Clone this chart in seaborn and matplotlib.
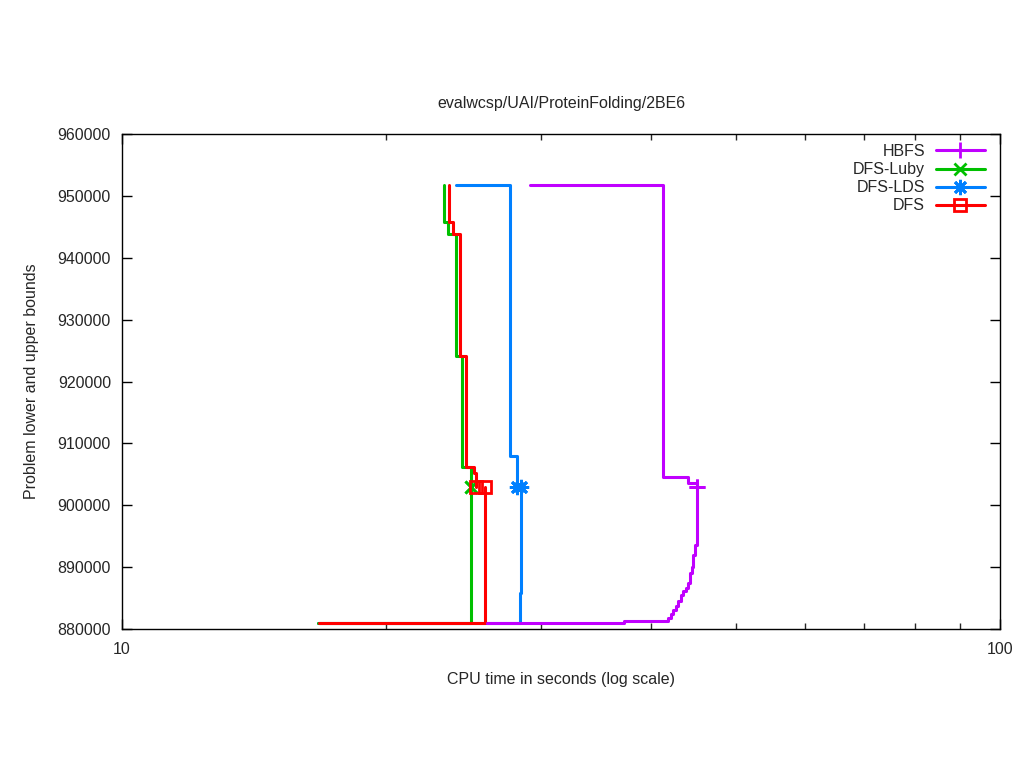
import matplotlib
matplotlib.use("Agg")
import matplotlib.pyplot as plt
from matplotlib.lines import Line2D
from matplotlib.ticker import FixedLocator, NullFormatter, FixedFormatter
import seaborn as sns

# upper bound step series (time in s, bound)
hbfs_ub_t = [29.15, 41.32, 44.12, 45.19]
hbfs_ub = [951760, 904566, 903600, 902950]
luby_ub_t = [23.26, 23.26, 23.51, 24.01, 24.39, 24.98]
luby_ub = [951760, 945780, 943840, 924125, 906190, 902950]
lds_ub_t = [24.01, 27.66, 28.18]
lds_ub = [951760, 907965, 902950]
dfs_ub_t = [23.57, 23.57, 23.82, 24.26, 24.65, 25.17, 25.31]
dfs_ub = [951760, 945780, 943840, 924125, 906190, 905220, 902950]

# lower bound step series
hbfs_lb_t = [26.04, 37.31, 41.87, 42.2, 42.45, 42.76, 43.03, 43.33, 43.6, 43.9,
             44.17, 44.36, 44.55, 44.74, 44.94, 45.14, 45.19]
hbfs_lb = [881000, 881250, 881790, 882430, 883080, 883725, 884530, 885500, 886150,
           886630, 887440, 889060, 890030, 891970, 893580, 901990, 902950]
luby_lb_t = [16.72, 24.98]
luby_lb = [881000, 902950]
lds_lb_t = [16.72, 28.4, 28.48]
lds_lb = [881000, 885830, 902950]
dfs_lb_t = [16.75, 25.91]
dfs_lb = [881000, 902950]

names = ["HBFS", "DFS-Luby", "DFS-LDS", "DFS"]
colors = {"HBFS": "#C000FF", "DFS-Luby": "#00C000", "DFS-LDS": "#0080FF", "DFS": "#FF0000"}
# gnuplot-like point types: plus, cross, star (8-arm asterisk), open square
markers = {"HBFS": "+", "DFS-Luby": "x", "DFS-LDS": (8, 2, 0), "DFS": "s"}
msizes = {"HBFS": 11, "DFS-Luby": 8, "DFS-LDS": 11, "DFS": 9}
series = {
    "HBFS": [(hbfs_ub_t, hbfs_ub), (hbfs_lb_t, hbfs_lb)],
    "DFS-Luby": [(luby_ub_t, luby_ub), (luby_lb_t, luby_lb)],
    "DFS-LDS": [(lds_ub_t, lds_ub), (lds_lb_t, lds_lb)],
    "DFS": [(dfs_ub_t, dfs_ub), (dfs_lb_t, dfs_lb)],
}
zorders = {"DFS-LDS": 2, "DFS-Luby": 3, "DFS": 4, "HBFS": 5}

sns.set_style("ticks")
plt.rcParams["font.family"] = ["Liberation Sans", "DejaVu Sans"]
fs = 11.5
plt.rcParams["font.size"] = fs

fig = plt.figure(figsize=(10.24, 7.68), dpi=100)
ax = fig.add_axes([122 / 1024, 1 - 629 / 768, 878 / 1024, 495 / 768])

lw = 2.2
mew = 2.0
for name in names:
    c = colors[name]
    for t, v in series[name]:
        sns.lineplot(x=t, y=v, ax=ax, color=c, lw=lw, drawstyle="steps-post",
                     estimator=None, sort=False, zorder=zorders[name])
        ax.plot(t[-1:], v[-1:], linestyle="none", marker=markers[name], markersize=msizes[name],
                markeredgewidth=mew, color=c,
                markerfacecolor="none" if name == "DFS" else c,
                zorder=zorders[name] + 0.5)

ax.set_xscale("log")
ax.set_xlim(10, 100)
ax.set_ylim(880000, 960000)
ax.xaxis.set_major_locator(FixedLocator([10, 100]))
ax.xaxis.set_major_formatter(FixedFormatter(["10", "100"]))
ax.xaxis.set_minor_locator(FixedLocator([20, 30, 40, 50, 60, 70, 80, 90]))
ax.xaxis.set_minor_formatter(NullFormatter())
ax.set_yticks(list(range(880000, 960001, 10000)))
ax.set_yticklabels([str(v) for v in range(880000, 960001, 10000)])

ax.tick_params(which="major", direction="in", length=7, width=1, top=True, right=True,
               labelsize=fs, color="black")
ax.tick_params(which="minor", direction="in", length=4, width=1, top=True, right=True)
ax.tick_params(axis="x", which="major", pad=9)
ax.tick_params(axis="y", which="major", pad=8)
for s in ax.spines.values():
    s.set_visible(True)
    s.set_linewidth(1)
    s.set_color("black")

ax.set_title("evalwcsp/UAI/ProteinFolding/2BE6", fontsize=fs, pad=19)
ax.set_xlabel("CPU time in seconds (log scale)", fontsize=fs, labelpad=11)
ax.set_ylabel("Problem lower and upper bounds", fontsize=fs, labelpad=13)

handles = []
for name in names:
    handles.append(Line2D([], [], color=colors[name], lw=lw, marker=markers[name],
                          markersize=msizes[name], markeredgewidth=mew,
                          markerfacecolor="none" if name == "DFS" else colors[name]))
ax.legend(handles, names, loc="upper right", bbox_to_anchor=(0.983, 0.98), frameon=False,
          markerfirst=False, handlelength=3.1, handletextpad=0.65, labelspacing=0.2,
          borderaxespad=0, borderpad=0, fontsize=fs)

fig.savefig("out.png", dpi=100)
